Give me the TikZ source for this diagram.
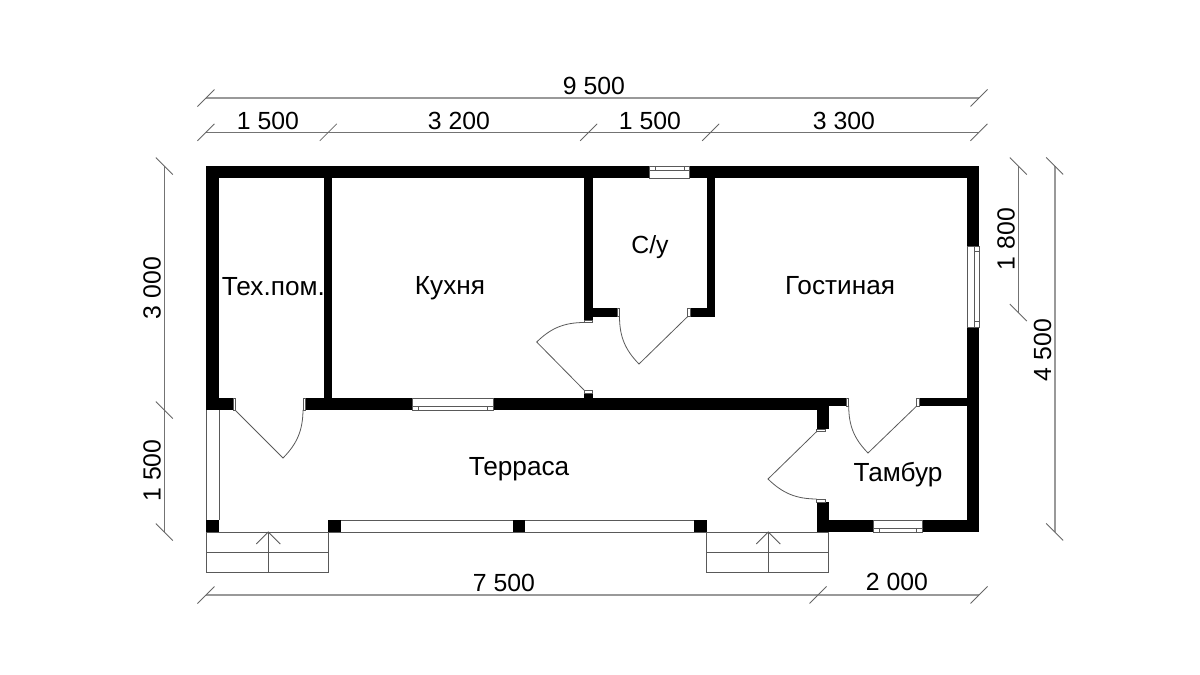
\documentclass[tikz,border=0pt]{standalone}
\usepackage{fontspec}
\setmainfont{Liberation Sans}
\usetikzlibrary{positioning}
\tikzset{
  wall/.style={fill=black},
  fine/.style={draw=black!65, line width=0.4pt},
  dimline/.style={draw=black!55, line width=0.5pt},
  dimheavy/.style={draw=black!40, line width=0.8pt},
  tick/.style={draw=black!60, line width=0.4pt},
  label/.style={font=\fontsize{12.4}{14}\selectfont, inner sep=0pt},
  room/.style={font=\fontsize{13.1}{15}\selectfont, inner sep=0pt}
}
\newcommand{\tickh}[2]{\draw[tick] (#1-8.5,#2+8.5) -- (#1+8.5,#2-8.5);}
\newcommand{\tickv}[2]{\draw[tick] (#1-8.5,#2-8.5) -- (#1+8.5,#2+8.5);}

\begin{document}
\begin{tikzpicture}[x=0.5pt, y=-0.5pt]
	\useasboundingbox (0,0) rectangle (1200,675);
	% walls
	\foreach \xa/\ya/\xb/\yb in {206/166/979/178, 206/166/219/410, 206/398/233/410, 305/398/828.5/410,
		324.3/178/332.3/398, 584/178/592.7/320, 592.7/308/617/316.7, 690/308/715/316.7, 706.7/178/715/316.7,
		584/393/592.7/398, 816.7/398/828.5/429, 828/398/846.7/406, 919/398/967/406,
		816.7/502/828.5/532, 816.7/520/873/532, 922/520/979/532, 967/166/979/246, 967/327/979/532,
		206/520/219/532, 328.3/520/341/532, 512.7/520/525.3/532, 694/520/707/532}
		\fill[wall] (\xa,\ya) rectangle (\xb,\yb);
	% windows
	\fill[white] (649.3,165.5) rectangle (689.3,178.5);
	\fill[white] (412.3,397.5) rectangle (493,410.5);
	\fill[white] (873,519.5) rectangle (922,532.5);
	\fill[white] (966.5,246) rectangle (979.5,327);
	\draw[fine] (649.3,166) rectangle (689.3,178) (655,170.7) -- (684,170.7) (655,166) -- (655,170.7) (684,166) -- (684,170.7) (649.3,170.7) -- (689.3,170.7);
	\draw[fine] (412.3,398) rectangle (493,410) (412.3,406) -- (493,406) (418.3,406) -- (418.3,410) (487.7,406) -- (487.7,410);
	\draw[fine] (873,520) rectangle (922,532) (873,528.3) -- (922,528.3) (879,528.3) -- (879,532) (916.7,528.3) -- (916.7,532);
	\draw[fine] (967,246) rectangle (979,327) (974.3,246) -- (974.3,327) (974.3,251) -- (979,251) (974.3,321.7) -- (979,321.7);
	% terrace
	\draw[fine] (206,410) -- (206,520) (219,410) -- (219,520);
	\draw[fine] (341,520) -- (512.7,520) (525.3,520) -- (694,520);
	\draw[fine] (206,532) -- (816.7,532);
	% jambs
	\foreach \xa/\ya/\xb/\yb in {233/398/235/410, 303/398/305/410, 846.7/398/848.7/406, 916.7/398/919/406,
		617/308/619.5/316.7, 687.5/308/690/316.7, 584/320/592.7/322.5, 584/390/592.7/393,
		816.7/429/825/431.5, 816.7/499/825/502}
		\draw[fine, fill=white] (\xa,\ya) rectangle (\xb,\yb);
	% doors
	\draw[fine] (235,410) -- (283,458) to[bend right=22] (303,410);
	\draw[fine] (916.7,406) -- (868,453) to[bend left=22] (848.7,406);
	\draw[fine] (816.7,431.5) -- (768,479) to[bend right=22] (816.7,499);
	\draw[fine] (584,390) -- (536.7,342) to[bend left=22] (584,322.5);
	\draw[fine] (687.5,316.7) -- (639,364) to[bend left=22] (619.5,316.7);
	% stairs
	\foreach \xa/\xm/\xb in {206/268.3/328.3, 706.7/768.3/828.3} {
		\draw[fine] (\xa,532) rectangle (\xb,572.7);
		\draw[fine] (\xa,552.3) -- (\xb,552.3);
		\draw[fine] (\xm,532) -- (\xm,572.7);
		\draw[fine] (\xm-12,544) -- (\xm,532) -- (\xm+12,544);
	}
	% dimensions
	\draw[dimheavy] (206,98) -- (979,98);
	\draw[dimline] (206,132.3) -- (979,132.3);
	\draw[dimheavy] (206,595) -- (979,595);
	\draw[dimline] (164.3,166) -- (164.3,532);
	\draw[dimline] (1018.3,166) -- (1018.3,312.5);
	\draw[dimheavy] (1054.7,166) -- (1054.7,532);
	\foreach \x in {206,979} {\tickh{\x}{98}}
	\foreach \x in {206,328.3,588.7,710.7,979} {\tickh{\x}{132.3}}
	\foreach \x in {206,818,979} {\tickh{\x}{595}}
	\foreach \y in {166,410,532} {\tickv{164.3}{\y}}
	\foreach \y in {166,312.5} {\tickv{1018.3}{\y}}
	\foreach \y in {166,532} {\tickv{1054.7}{\y}}
	% rooms
	\node[room] (Tech) at (273.4,286.4) {Тех.пом.};
	\node[room] (Kitchen) at (450,288) {Кухня};
	\node[room, font=\fontsize{12.4}{14}\selectfont] (Wc) at (650,247) {С/у};
	\node[room] (Living) at (840,286) {Гостиная};
	\node[room] (Terrace) at (519,469.5) {Терраса};
	\node[room] (Hall) at (898,475) {Тамбур};
	% sizes
	\node[label] (Total) at (594,86) {9 500};
	\node[label] (TopA) at (268,120.5) {1 500};
	\node[label] (TopB) at (459,120.5) {3 200};
	\node[label] (TopC) at (650,120.5) {1 500};
	\node[label] (TopD) at (844,120.5) {3 300};
	\node[label] (BotA) at (504,583) {7 500};
	\node[label] (BotB) at (897,582) {2 000};
	\node[label, rotate=90] (LeftA) at (152,288) {3 000};
	\node[label, rotate=90] (LeftB) at (152,470.5) {1 500};
	\node[label, rotate=90] (RightA) at (1006,239) {1 800};
	\node[label, rotate=90] (RightB) at (1042.7,350) {4 500};
\end{tikzpicture}
\end{document}
